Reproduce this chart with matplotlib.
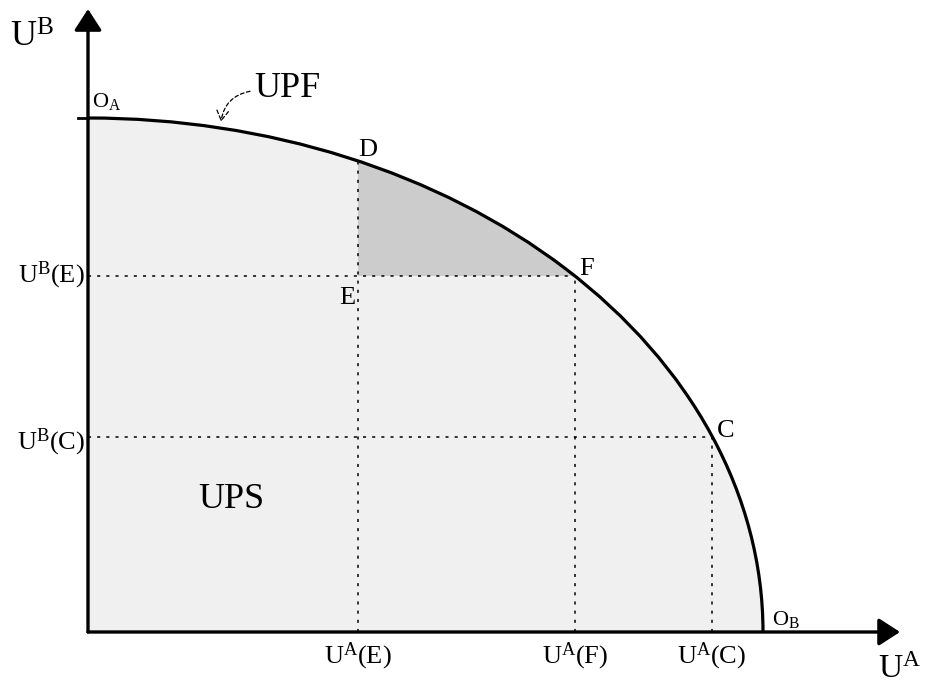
import matplotlib
matplotlib.use("Agg")
import matplotlib.pyplot as plt
from matplotlib.patches import Ellipse, Arc, Rectangle

plt.rcParams['font.family'] = ['Liberation Serif', 'DejaVu Serif']
plt.rcParams['mathtext.fontset'] = 'custom'
plt.rcParams['mathtext.rm'] = 'Liberation Serif'
plt.rcParams['mathtext.it'] = 'Liberation Serif'

# ---- data (abstract utility units) ----
UA_max = 10.0           # frontier intercept on U^A axis (O_B)
UB_max = 10.0           # frontier intercept on U^B axis (O_A)
UA_E = 4.0              # U^A at D / E
UB_D = 9.17             # U^B at D
UA_F = 7.21             # U^A at F
UB_E = 6.92             # U^B at E / F
UA_C = 9.24             # U^A at C
UB_C = 3.80             # U^B at C
UA_arrow = 12.03        # x-axis arrow tip
UB_arrow = 12.12        # y-axis arrow tip

x_tick_vals = [UA_E, UA_F, UA_C]
x_tick_labels = [r'U$^{\rm A}$(E)', r'U$^{\rm A}$(F)', r'U$^{\rm A}$(C)']
y_tick_vals = [UB_E, UB_C]
y_tick_labels = [r'U$^{\rm B}$(E)', r'U$^{\rm B}$(C)']
y_tick_offsets = [-6, -13]

fig = plt.figure(figsize=(9.28, 6.84), dpi=100)
ax = fig.add_axes([0, 0, 1, 1])
ax.set_xlim(-88 / 67.5, 840 / 67.5)
ax.set_ylim(-52 / 51.4, 632 / 51.4)
ax.axis('off')

# utility possibility set (light fill)
ups = Ellipse((0, 0), 2 * UA_max, 2 * UB_max, facecolor='#f0f0f0', edgecolor='none', zorder=1)
ax.add_patch(ups)
ups.set_clip_path(Rectangle((0, 0), UA_max, UB_max, transform=ax.transData))

# shaded region D-E-F
shade = Ellipse((0, 0), 2 * UA_max, 2 * UB_max, facecolor='#cccccc', edgecolor='none', zorder=2)
ax.add_patch(shade)
shade.set_clip_path(Rectangle((UA_E, UB_E), UA_F - UA_E, UB_max - UB_E + 1, transform=ax.transData))

# dotted guide lines
dot = dict(color='black', lw=1.1, linestyle=(0, (2, 4)), zorder=3)
ax.plot([0, UA_F], [UB_E, UB_E], **dot)
ax.plot([UA_E, UA_E], [0, UB_D], **dot)
ax.plot([UA_F, UA_F], [0, UB_E], **dot)
ax.plot([0, UA_C], [UB_C, UB_C], **dot)
ax.plot([UA_C, UA_C], [0, UB_C], **dot)

# frontier
ax.add_patch(Arc((0, 0), 2 * UA_max, 2 * UB_max, theta1=0, theta2=90, lw=2.3, color='black', zorder=4))
ax.plot([-0.15, 0], [UB_max, UB_max], color='black', lw=2.0, zorder=4)

# axes with arrows
arr = dict(arrowstyle='-|>,head_length=0.65,head_width=0.42', lw=2.4, color='black',
           mutation_scale=20, shrinkA=0, shrinkB=0)
ax.annotate('', xy=(UA_arrow, 0), xytext=(0, 0), arrowprops=arr, zorder=5)
ax.annotate('', xy=(0, UB_arrow), xytext=(0, 0), arrowprops=arr, zorder=5)

# tick labels
for v, lab in zip(x_tick_vals, x_tick_labels):
    ax.annotate(lab, xy=(v, 0), xytext=(0, -31), textcoords='offset pixels',
                ha='center', va='baseline', fontsize=19)
for v, lab, off in zip(y_tick_vals, y_tick_labels, y_tick_offsets):
    ax.annotate(lab, xy=(0, v), xytext=(-3, off), textcoords='offset pixels',
                ha='right', va='baseline', fontsize=19)

# point labels
ax.annotate('D', xy=(UA_E, UB_D), xytext=(0, 5), textcoords='offset pixels', ha='left', va='baseline', fontsize=19)
ax.annotate('E', xy=(UA_E, UB_E), xytext=(-3, -28), textcoords='offset pixels', ha='right', va='baseline', fontsize=19)
ax.annotate('F', xy=(UA_F, UB_E), xytext=(5, 1), textcoords='offset pixels', ha='left', va='baseline', fontsize=19)
ax.annotate('C', xy=(UA_C, UB_C), xytext=(5, 0), textcoords='offset pixels', ha='left', va='baseline', fontsize=19)
ax.annotate(r'O$_{\rm A}$', xy=(0, UB_max), xytext=(4, 11), textcoords='offset pixels', ha='left', va='baseline', fontsize=16)
ax.annotate(r'O$_{\rm B}$', xy=(UA_max, 0), xytext=(9, 7), textcoords='offset pixels', ha='left', va='baseline', fontsize=16)

# axis labels
ax.text(-1.156, 11.38, r'U$^{\rm B}$', ha='left', va='baseline', fontsize=26)
ax.text((878 - 88) / 67.5, -0.90, r'U$^{\rm A}$', ha='left', va='baseline', fontsize=24)

# region / curve labels
ax.text(1.63, 2.41, 'UPS', ha='left', va='baseline', fontsize=26)
ax.text(2.47, 10.41, 'UPF', ha='left', va='baseline', fontsize=26)
ax.annotate('', xy=(1.97, 9.93), xytext=(2.40, 10.52),
            arrowprops=dict(arrowstyle='->,head_length=0.5,head_width=0.3', lw=0.9, color='black',
                            linestyle=(0, (3, 2)), connectionstyle='arc3,rad=0.35',
                            shrinkA=0, shrinkB=0, mutation_scale=14))

fig.savefig('out.png', dpi=100)
